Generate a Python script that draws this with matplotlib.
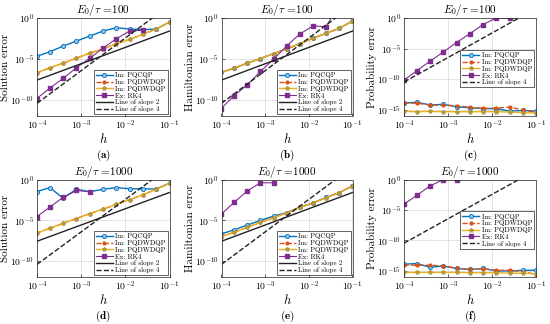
import matplotlib
matplotlib.use('Agg')
import matplotlib.pyplot as plt
import numpy as np

plt.rcParams['font.family'] = ['cmr10', 'DejaVu Serif']
plt.rcParams['mathtext.fontset'] = 'cm'
plt.rcParams['axes.unicode_minus'] = False
plt.rcParams['axes.formatter.use_mathtext'] = True

# step sizes (0.1 / 2^k), ascending
h = [9.765625e-5, 1.953125e-4, 3.90625e-4, 7.8125e-4, 1.5625e-3, 3.125e-3,
     6.25e-3, 1.25e-2, 2.5e-2, 5e-2, 1e-1]
h_ends = [1e-4, 1e-1]
# reference lines, log10 values at h = 1e-4 and 1e-1
slope2 = [-7.6, -1.6]
slope4 = [-10.45, 1.55]

nan = np.nan
# all errors below are log10 values
# (a) solution error, E0/tau = 100
a_pqcqp = [-4.7, -4.14, -3.44, -2.83, -2.21, -1.6, -1.19, -1.35, -1.43, -1.35, -0.5]
a_pqdw1 = [-6.72, -6.1, -5.53, -4.92, -4.3, -3.77, -3.16, -2.62, -2.0, -1.35, -0.5]
a_pqdw2 = [-6.72, -6.1, -5.53, -4.92, -4.3, -3.77, -3.16, -2.62, -2.0, -1.35, -0.5]
a_rk4 = [-9.88, -8.6, -7.38, -6.1, -4.92, -3.69, -2.54, -1.6, -1.5, nan, nan]
# (b) hamiltonian error, E0/tau = 100
b_pqcqp = [-6.67, -6.14, -5.53, -4.96, -4.35, -3.78, -3.13, -2.48, -1.87, -1.26, -0.37]
b_pqdw1 = [-6.67, -6.14, -5.53, -4.96, -4.35, -3.78, -3.13, -2.48, -1.87, -1.26, -0.37]
b_pqdw2 = [-6.67, -6.14, -5.53, -4.96, -4.35, -3.78, -3.13, -2.48, -1.87, -1.26, -0.37]
b_rk4 = [-11.1, -9.5, -8.17, -6.54, -5.04, -3.41, -1.95, -0.98, -1.06, 1.8, nan]
# (c) probability error, E0/tau = 100
c_pqcqp = [-13.9, -13.75, -14.2, -14.1, -14.5, -14.65, -14.8, -14.8, -15.2, -15.1, -15.2]
c_pqdw1 = [-13.9, -13.9, -14.2, -14.25, -14.3, -14.6, -14.75, -14.7, -14.55, -15.0, -15.45]
c_pqdw2 = [-15.25, -15.3, -15.25, -15.3, -15.3, -15.3, -15.3, -15.3, -15.35, -15.45, -15.5]
c_rk4 = [-10.2, -8.6, -7.06, -5.56, -4.0, -2.57, -1.07, 0.0, 0.0, nan, nan]
# (d) solution error, E0/tau = 1000
d_pqcqp = [-1.5, -1.0, -2.3, -1.2, -1.5, -1.2, -1.0, -1.14, -1.14, -1.18, -0.45]
d_pqdw1 = [-6.6, -6.0, -5.4, -4.8, -4.2, -3.66, -3.05, -2.48, -1.87, -1.22, -0.45]
d_pqdw2 = [-6.6, -6.0, -5.4, -4.8, -4.2, -3.66, -3.05, -2.48, -1.87, -1.22, -0.45]
d_rk4 = [-4.6, -3.4, -2.2, -1.35, -1.5, nan, nan, nan, nan, nan, nan]
# (e) hamiltonian error, E0/tau = 1000
e_pqcqp = [-6.7, -6.2, -5.6, -5.04, -4.5, -4.08, -3.4, -2.88, -2.2, -1.6, -0.8]
e_pqdw1 = [-7.04, -6.48, -5.9, -5.28, -4.7, -4.12, -3.44, -2.88, -2.24, -1.6, -0.8]
e_pqdw2 = [-7.04, -6.48, -5.9, -5.28, -4.7, -4.12, -3.44, -2.88, -2.24, -1.6, -0.8]
e_rk4 = [-4.3, -2.8, -1.4, -0.4, -0.4, nan, nan, nan, nan, nan, nan]
# (f) probability error, E0/tau = 1000
f_pqcqp = [-13.9, -13.8, -14.4, -14.2, -14.6, -14.76, -14.6, -15.0, -15.0, -14.9, -14.9]
f_pqdw1 = [-14.06, -14.06, -14.06, -14.2, -14.5, -14.76, -14.65, -14.9, -14.9, -15.1, -15.6]
f_pqdw2 = [-15.25, -15.25, -15.25, -15.25, -15.25, -15.3, -15.3, -15.3, -15.35, -15.4, -15.45]
f_rk4 = [-4.1, -2.6, -1.07, 0.0, 0.0, nan, nan, nan, nan, nan, nan]

blue = '#0072BD'
orange = '#D95319'
yellow = '#EDB120'
purple = '#7E2F8E'

W, H = 550, 324
fig = plt.figure(figsize=(W / 100, H / 100), dpi=100)

cols = [(37, 169.5), (221.5, 352.5), (404, 536)]
rows = [(18, 116), (179.5, 277)]

panels = [
    (0, 0, a_pqcqp, a_pqdw1, a_pqdw2, a_rk4, 'Solution error', '100', '(a)', True, -12),
    (0, 1, b_pqcqp, b_pqdw1, b_pqdw2, b_rk4, 'Hamiltonian error', '100', '(b)', True, -12),
    (0, 2, c_pqcqp, c_pqdw1, c_pqdw2, c_rk4, 'Probability error', '100', '(c)', False, -16),
    (1, 0, d_pqcqp, d_pqdw1, d_pqdw2, d_rk4, 'Solution error', '1000', '(d)', True, -12),
    (1, 1, e_pqcqp, e_pqdw1, e_pqdw2, e_rk4, 'Hamiltonian error', '1000', '(e)', True, -12),
    (1, 2, f_pqcqp, f_pqdw1, f_pqdw2, f_rk4, 'Probability error', '1000', '(f)', False, -16),
]

for r, c, s1, s2, s3, s4, ylab, e0, letter, show2, ybot in panels:
    x0, x1 = cols[c]
    y0, y1 = rows[r]
    ax = fig.add_axes([x0 / W, 1 - y1 / H, (x1 - x0) / W, (y1 - y0) / H])
    lw = 1.0
    ax.plot(h, 10 ** np.array(s1), '-o', color=blue, lw=lw, ms=3,
            mfc='#8fc3ea', mec=blue, mew=0.6, label='Im: PQCQP')
    ax.plot(h, 10 ** np.array(s2), '--', marker='.', color=orange, lw=lw, ms=4,
            label='Im: PQDWDQP')
    ax.plot(h, 10 ** np.array(s3), '-', marker='*', color=yellow, lw=lw, ms=3,
            mec='#b39a3a', label='Im: PQDWDQP')
    ax.plot(h, 10 ** np.array(s4), '-s', color=purple, lw=lw * 0.8, ms=2.3,
            label='Ex: RK4')
    if show2:
        ax.plot(h_ends, 10 ** np.array(slope2), '-', color='#222222', lw=lw,
                label='Line of slope 2')
    ax.plot(h_ends, 10 ** np.array(slope4), '--', color='#222222', lw=lw,
            label='Line of slope 4')

    ax.set_xscale('log')
    ax.set_yscale('log')
    ax.set_xlim(1e-4, 1e-1)
    ax.set_ylim(10.0 ** ybot, 1)
    if ybot == -16:
        ax.set_yticks([1, 1e-5, 1e-10, 1e-15])
    else:
        ax.set_yticks([1, 1e-5, 1e-10])
    ax.minorticks_off()
    ax.set_xticks([1e-4, 1e-3, 1e-2, 1e-1])
    ax.tick_params(direction='in', labelsize=7, length=2.5, width=0.5, pad=2,
                   colors='#262626', labelcolor='black')
    for sp in ax.spines.values():
        sp.set_linewidth(0.5)
        sp.set_color('#262626')
    ax.grid(True, color='#d8d8d8', lw=0.5)
    ax.set_axisbelow(True)

    ax.set_ylabel(ylab, fontsize=8, labelpad=0)
    ax.set_xlabel('$h$', fontsize=9, labelpad=0)
    ax.set_title(r'$E_0/\tau$ =' + e0, fontsize=8, pad=3)

    legkw = dict(fontsize=5, labelspacing=0.12, handlelength=2.4,
                 handletextpad=0.4, borderpad=0.3, borderaxespad=0.25,
                 fancybox=False, framealpha=1)
    if show2:
        leg = ax.legend(loc='lower right', **legkw)
    else:
        leg = ax.legend(loc='upper right', bbox_to_anchor=(1.0, 0.69), **legkw)
    leg.get_frame().set_edgecolor('#262626')
    leg.get_frame().set_linewidth(0.5)

    fig.text((x0 + x1) / 2 / W, 1 - (y1 + 39) / H, r'$\mathbf{' + letter + '}$',
             ha='center', va='center', fontsize=8)

plt.savefig('out.png', dpi=100)
plt.close()
